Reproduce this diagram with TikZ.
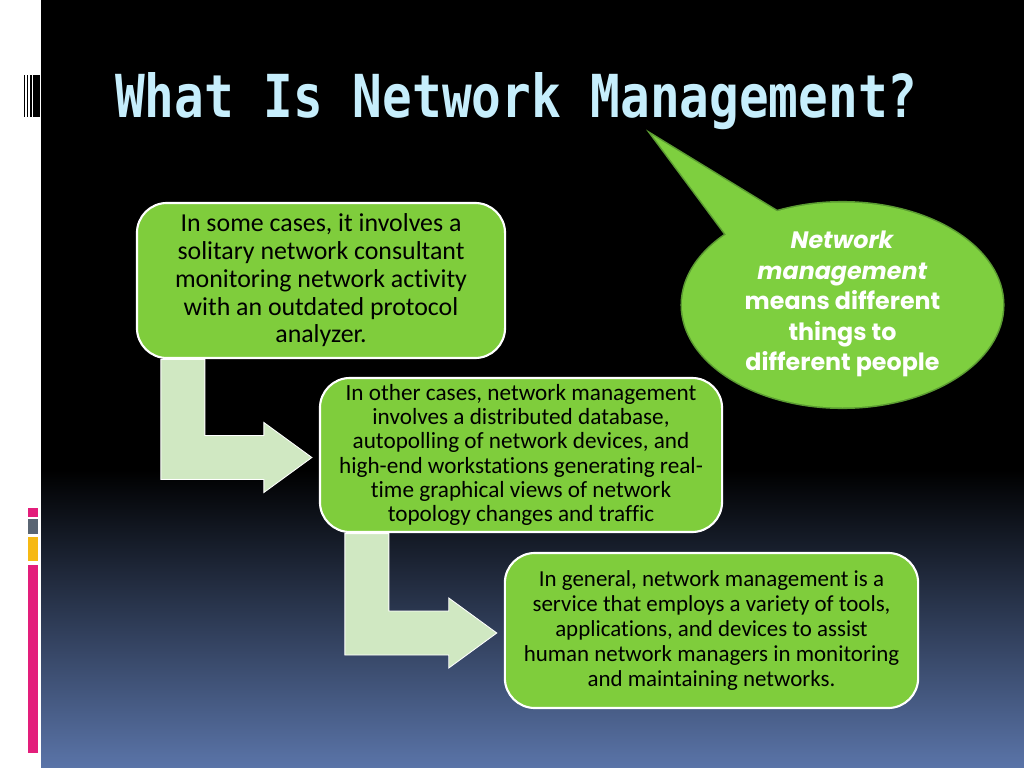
\documentclass[tikz,border=0pt]{standalone}
\usepackage{fontspec}
\usepackage{graphicx}
\usepackage{xcolor}
\usepackage{tikz}
\usetikzlibrary{calc}

\newfontfamily\bodyfont{Carlito}[Ligatures=NoCommon]
\newfontfamily\titlefont{DejaVu Sans Mono}
\newfontfamily\calloutfont{Poppins}

\definecolor{boxGreen}{HTML}{7FCD3C}
\definecolor{callGreen}{HTML}{7ECF3F}
\definecolor{callEdge}{HTML}{5B9B32}
\definecolor{arrowGreen}{HTML}{D0E8C2}
\definecolor{titleBlue}{HTML}{C6EEFC}
\definecolor{bgMid}{HTML}{1F2739}
\definecolor{bgBottom}{HTML}{5A74A8}
\definecolor{barPink}{HTML}{E31E7B}
\definecolor{barGrey}{HTML}{5A6573}
\definecolor{barOrange}{HTML}{F6B914}

% block arrow: #1 top left of the shaft, #2 tip
\newcommand{\bentarrow}[2]{%
  \path #1 coordinate (shaftTop) #2 coordinate (arrowTip);
  \filldraw[arrowblock] (shaftTop) -- ($(shaftTop)+(44,0)$) |- ($(arrowTip)+(-48,-22)$) -- ($(arrowTip)+(-48,-35)$) -- (arrowTip) -- ($(arrowTip)+(-48,35)$) -- ($(arrowTip)+(-48,22)$) -| (shaftTop) -- cycle;
}

\begin{document}
\begin{tikzpicture}[x=0.025cm, y=-0.025cm,
  box/.style={rectangle, rounded corners=0.75cm, fill=boxGreen, draw=white, line width=1.5pt, inner sep=0, align=center, text=black},
  arrowblock/.style={fill=arrowGreen, draw=white, line width=0.6pt},
  bubbleEdge/.style={draw=callEdge, line width=2.2pt},
  bubbleFill/.style={fill=callGreen}]

  \useasboundingbox (0,0) rectangle (1024,768);

  \fill[white] (0,0) rectangle (1024,768);
  \fill[black] (41,0) rectangle (1024,768);
  \shade[top color=black, middle color=bgMid, bottom color=bgBottom] (41,470) rectangle (1024,768);

  \foreach \xa/\xb in {24/25,26.5/28,29.5/31.5,33/40}
    \fill[black] (\xa,75) rectangle (\xb,117);
  \foreach \ya/\yb/\barcol in {508/517/barPink,519/534/barGrey,537/561/barOrange,565/753/barPink}
    \fill[\barcol] (28,\ya) rectangle (38,\yb);

  \node[anchor=base west, text=titleBlue, font=\titlefont\bfseries\fontsize{35.1}{40}\selectfont, inner sep=0] (title) at (115,118) {\scalebox{1}[1.2]{What Is Network Management?}};

  \node[box, minimum width=9.2cm, minimum height=3.875cm, font=\bodyfont\fontsize{18.4}{19.7}\selectfont]  (boxSome)    at (321,280.5) {In some cases, it involves a\\solitary network consultant\\monitoring network activity\\with an outdated protocol\\analyzer.};
  \node[box, minimum width=10.05cm, minimum height=3.85cm, font=\bodyfont\fontsize{16.5}{17.2}\selectfont] (boxOther)   at (521,455)   {In other cases, network management\\involves a distributed database,\\autopolling of network devices, and\\high-end workstations generating real-\\time graphical views of network\\topology changes and traffic};
  \node[box, minimum width=10.33cm, minimum height=3.875cm, font=\bodyfont\fontsize{16.3}{17.8}\selectfont] (boxGeneral) at (711.5,630.5) {In general, network management is a\\service that employs a variety of tools,\\applications, and devices to assist\\human network managers in monitoring\\and maintaining networks.};

  \bentarrow{($(boxSome.south west)+(25,0.5)$)}{($(boxOther.west)+(-7,2.5)$)}
  \bentarrow{($(boxOther.south west)+(26,0.5)$)}{($(boxGeneral.west)+(-7,2.5)$)}

  \path[bubbleEdge] (652,135) -- (790.6,219.7) -- (734.5,246) -- cycle;
  \path[bubbleEdge] (842.5,305) ellipse [x radius=160.5, y radius=102.5];
  \path[bubbleFill] (652,135) -- (790.6,219.7) -- (734.5,246) -- cycle;
  \path[bubbleFill] (842.5,305) ellipse [x radius=160.5, y radius=102.5];

  \node[align=center, text=white, font=\calloutfont\bfseries\fontsize{16.9}{21.7}\selectfont] (calloutText) at (842.5,304) {\textit{Network}\\\textit{management}\\means different\\things to\\different people};
\end{tikzpicture}
\end{document}
